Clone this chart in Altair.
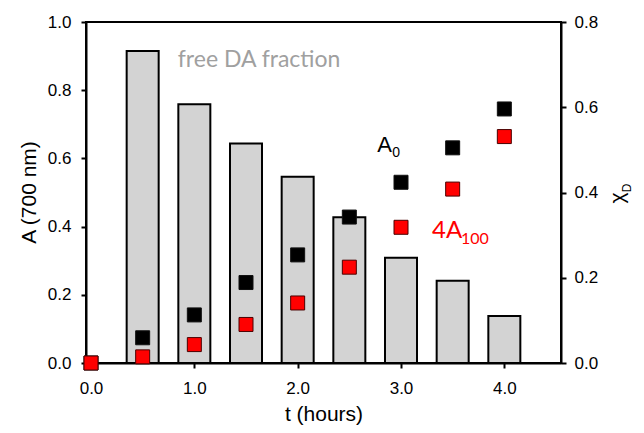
import altair as alt
import pandas as pd

# ---- data ----
t_bars = [0.5, 1.0, 1.5, 2.0, 2.5, 3.0, 3.5, 4.0]
free_da = [0.732, 0.607, 0.515, 0.437, 0.342, 0.247, 0.193, 0.110]   # chi_D (right axis)

t_pts = [0.0, 0.5, 1.0, 1.5, 2.0, 2.5, 3.0, 3.5, 4.0]
a0 = [0.0, 0.074, 0.141, 0.236, 0.317, 0.428, 0.530, 0.631, 0.745]
a100x4 = [0.0, 0.018, 0.054, 0.113, 0.176, 0.281, 0.398, 0.510, 0.664]

x_ticks = [0, 1, 2, 3, 4]
a_ticks = [0, 0.2, 0.4, 0.6, 0.8, 1.0]
chi_ticks = [0, 0.2, 0.4, 0.6, 0.8]

# annotation anchors (data units)
lbl_free = {"t": [0.84], "A": [0.89], "text": ["free DA fraction"]}
lbl_a0 = {"t": [2.77], "A": [0.62], "text": ["A"], "sub": ["0"]}
lbl_4a = {"t": [3.30], "A": [0.367], "text": ["4A"], "sub": ["100"]}

bars_df = pd.DataFrame({"t": t_bars, "chi": free_da})
pts_df = pd.DataFrame({"t": t_pts, "A0": a0, "A100x4": a100x4})

xscale = alt.Scale(domain=[0, 4.5], nice=False, zero=False)
ascale = alt.Scale(domain=[0, 1.0], nice=False)
cscale = alt.Scale(domain=[0, 0.8], nice=False)

X = alt.X("t:Q", scale=xscale,
          axis=alt.Axis(values=x_ticks, format=".1f", title="t (hours)", labelPadding=12,
                        titleBaseline="middle", titleY=51, titleAnchor="middle"))

bars = alt.Chart(bars_df).mark_bar(
    size=32, fill="#d3d3d3", stroke="black", strokeWidth=2
).encode(
    x=X,
    y=alt.Y("chi:Q", scale=cscale,
            axis=alt.Axis(orient="right", values=chi_ticks, format=".1f", title=None,
                          labelPadding=8)),
)

black_sq = alt.Chart(pts_df).mark_square(
    size=196, fill="black", stroke="#111111", strokeWidth=1, opacity=1
).encode(x=X, y=alt.Y("A0:Q", scale=ascale,
                      axis=alt.Axis(orient="left", values=a_ticks, format=".1f", title="A (700 nm)",
                                    titleAngle=270, titleX=-57, titleY=170, titleBaseline="middle",
                                    titleAlign="center", labelPadding=10)))

red_sq = alt.Chart(pts_df).mark_square(
    size=196, fill="#ff0000", stroke="#4a0000", strokeWidth=1, opacity=1
).encode(x=X, y=alt.Y("A100x4:Q", scale=ascale))

def text_layer(d, field, font, size, color, dx=0, dy=0, align="left", baseline="alphabetic"):
    df = pd.DataFrame(d)
    return alt.Chart(df).mark_text(
        font=font, fontSize=size, color=color, align=align, baseline=baseline, dx=dx, dy=dy
    ).encode(x=alt.X("t:Q", scale=xscale), y=alt.Y("A:Q", scale=ascale), text=f"{field}:N")

t_free = text_layer(lbl_free, "text", "Lato", 23, "#a0a0a0", baseline="middle")
t_a0 = text_layer(lbl_a0, "text", "Liberation Sans", 22, "black")
t_a0s = text_layer(lbl_a0, "sub", "Liberation Sans", 14, "black", dx=15, dy=5)
t_4a = text_layer(lbl_4a, "text", "Lato", 24, "#ff0000")
t_4as = text_layer(lbl_4a, "sub", "Lato", 16, "#ff0000", dx=29, dy=6)

chi_df = pd.DataFrame({"text": ["χ"]})
d_df = pd.DataFrame({"text": ["D"]})
t_chi = alt.Chart(chi_df).mark_text(
    font="Liberation Sans", fontSize=21, color="black", angle=270, align="center", baseline="middle"
).encode(x=alt.value(532), y=alt.value(176), text="text:N")
t_d = alt.Chart(d_df).mark_text(
    font="Liberation Sans", fontSize=12, color="black", angle=270, align="center", baseline="middle"
).encode(x=alt.value(541), y=alt.value(166), text="text:N")

points = alt.layer(black_sq, red_sq, t_free, t_a0, t_a0s, t_4a, t_4as, t_chi, t_d)

chart = alt.layer(bars, points).resolve_scale(y="independent").properties(
    width=475, height=341,
    autosize=alt.AutoSizeParams(type="none"),
    padding={"left": 78, "top": 14, "right": 75, "bottom": 62},
).configure_axis(
    labelFont="Liberation Sans", labelFontSize=17, labelColor="black",
    titleFont="Liberation Sans", titleFontSize=21, titleFontWeight="normal", titleColor="black",
    domainColor="black", domainWidth=2, tickColor="black", tickWidth=2, tickSize=5,
    grid=False,
).configure_view(stroke="black", strokeWidth=2)

chart.save("out.html", embed_options={"renderer": "svg", "actions": False})
